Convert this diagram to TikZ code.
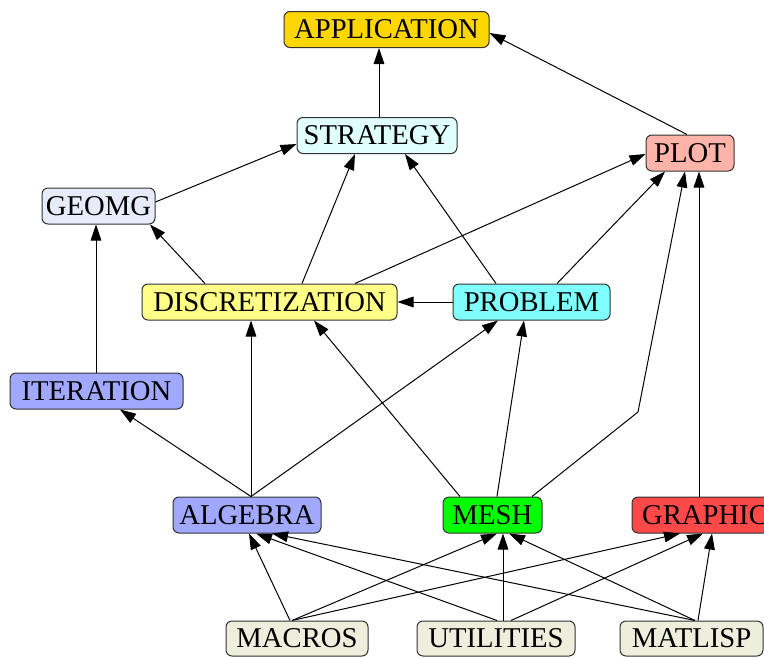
\documentclass[tikz,border=0pt]{standalone}
\usepackage{fontspec}
\setmainfont{Liberation Serif}
\usetikzlibrary{arrows.meta,calc}
\definecolor{cApp}{RGB}{255,215,0}
\definecolor{cStr}{RGB}{224,255,255}
\definecolor{cPlot}{RGB}{255,180,170}
\definecolor{cGeo}{RGB}{230,236,250}
\definecolor{cDis}{RGB}{255,255,136}
\definecolor{cProb}{RGB}{128,255,255}
\definecolor{cIter}{RGB}{160,168,255}
\definecolor{cMesh}{RGB}{0,255,0}
\definecolor{cGra}{RGB}{255,72,72}
\definecolor{cBase}{RGB}{238,238,220}
\definecolor{cBorder}{RGB}{50,50,50}
\tikzset{
  box/.style={draw=cBorder, line width=0.75pt, rounded corners=4.5pt,
    font=\fontsize{21.5}{25}\selectfont, text height=14.2pt, text depth=0pt,
    inner xsep=0pt, minimum height=27pt, anchor=center},
  edge/.style={draw=black, line width=0.75pt, -{Triangle[length=12pt,width=8pt]}}
}
\begin{document}
\begin{tikzpicture}[x=0.75pt,y=-0.75pt]
\useasboundingbox (0,0) rectangle (764,657);
\clip (0,0) rectangle (764,657);
% nodes
\node[box, fill=cApp,  minimum width=153.75pt] (app)  at (386.5,29.5) {APPLICATION};
\node[box, fill=cStr,  minimum width=120pt]    (str)  at (377,135.5)  {STRATEGY};
\node[box, fill=cPlot, minimum width=66pt]     (plot) at (690,153)    {PLOT};
\node[box, fill=cGeo,  minimum width=84.75pt]  (geo)  at (98.5,206)   {GEOMG};
\node[box, fill=cDis,  minimum width=191.25pt] (dis)  at (269.5,302)  {DISCRETIZATION};
\node[box, fill=cProb, minimum width=117.75pt] (prob) at (531.5,302)  {PROBLEM};
\node[box, fill=cIter, minimum width=129.75pt] (iter) at (96.5,391)   {ITERATION};
\node[box, fill=cIter, minimum width=111pt]    (alg)  at (247,515)    {ALGEBRA};
\node[box, fill=cMesh, minimum width=74.25pt]  (mesh) at (492.5,515)  {MESH};
\node[box, fill=cGra,  minimum width=109.5pt]  (gra)  at (705,515)    {GRAPHIC};
\node[box, fill=cBase, minimum width=106.5pt, minimum height=26.25pt]  (mac)  at (297,638.5)  {MACROS};
\node[box, fill=cBase, minimum width=118.5pt, minimum height=26.25pt]  (uti)  at (496,638.5)  {UTILITIES};
\node[box, fill=cBase, minimum width=107.25pt, minimum height=26.25pt] (mat)  at (691.5,638.5) {MATLISP};
\coordinate (bend) at (638,412);
% edges
\draw[edge] ($(str.north)+(2,0)$) -- ($(app.south)+(-7.5,0)$);
\draw[edge] ($(plot.north)+(-3,0)$) -- ($(app.east)+(0,3.5)$);
\draw[edge] ($(geo.east)+(0,-4)$) -- ($(str.west)+(0,8.5)$);
\draw[edge] ($(dis.north)+(-64.5,0)$) -- ($(geo.south)+(51.5,0)$);
\draw[edge] ($(dis.north)+(32.5,0)$) -- ($(str.south)+(-22,0)$);
\draw[edge] ($(dis.north)+(85.5,0)$) -- ($(plot.west)+(0,1)$);
\draw[edge] ($(prob.north)+(-35.5,0)$) -- ($(str.south)+(28,0)$);
\draw[edge] ($(prob.north)+(25.5,0)$) -- ($(plot.south)+(-25,0)$);
\draw[edge] (prob.west) -- (dis.east);
\draw[edge] ($(iter.north)+(-0.5,0)$) -- ($(geo.south)+(-2.5,0)$);
\draw[edge] ($(alg.north)+(4,0)$) -- ($(iter.south)+(23.5,0)$);
\draw[edge] ($(alg.north)+(4,0)$) -- ($(dis.south)+(-18.5,0)$);
\draw[edge] ($(alg.north)+(4,0)$) -- ($(prob.south)+(-33.5,0)$);
\draw[edge] ($(mesh.north)+(-32.5,0)$) -- ($(dis.south)+(44.5,0)$);
\draw[edge] ($(mesh.north)+(4.5,0)$) -- ($(prob.south)+(-7.5,0)$);
\draw[edge] ($(mesh.north)+(39.5,0)$) -- (bend) -- ($(plot.south)+(-5,0)$);
\draw[edge] ($(gra.north)+(-6,0)$) -- ($(plot.south)+(9,0)$);
\draw[edge] ($(mac.north)+(-7,0)$) -- ($(alg.south)+(2,0)$);
\draw[edge] ($(mac.north)+(-5,0)$) -- ($(mesh.south)+(4.5,0)$);
\draw[edge] ($(mac.north)+(-5,0)$) -- ($(gra.south)+(-25,0)$);
\draw[edge] ($(uti.north)+(1,0)$) -- ($(alg.south)+(9,0)$);
\draw[edge] ($(uti.north)+(7,0)$) -- ($(mesh.south)+(10.5,0)$);
\draw[edge] ($(uti.north)+(15,0)$) -- ($(gra.south)+(-2,0)$);
\draw[edge] ($(mat.north)+(3.5,0)$) -- ($(alg.south)+(25,0)$);
\draw[edge] ($(mat.north)+(3.5,0)$) -- ($(mesh.south)+(16.5,0)$);
\draw[edge] ($(mat.north)+(6.5,0)$) -- ($(gra.south)+(7,0)$);
\end{tikzpicture}
\end{document}
